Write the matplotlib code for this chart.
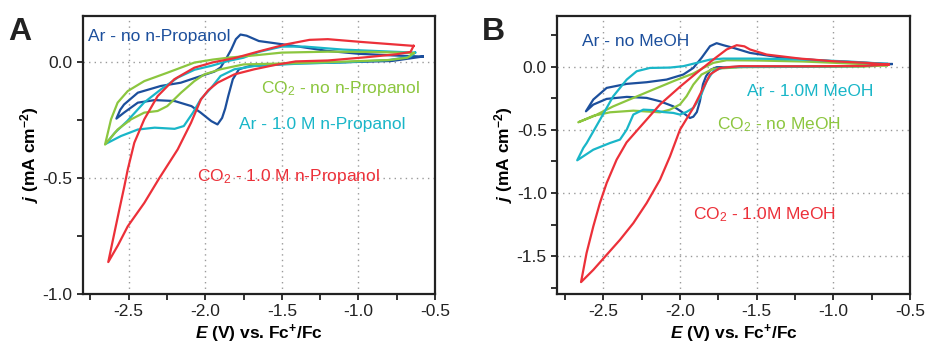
import matplotlib
matplotlib.use('Agg')
import matplotlib.pyplot as plt
from matplotlib.ticker import MultipleLocator, FormatStrFormatter

plt.rcParams['font.family'] = ['Liberation Sans', 'DejaVu Sans']
plt.rcParams['axes.unicode_minus'] = False
plt.rcParams['mathtext.fontset'] = 'custom'
plt.rcParams['mathtext.rm'] = 'Liberation Sans'
plt.rcParams['mathtext.it'] = 'Liberation Sans:italic:bold'
plt.rcParams['mathtext.bf'] = 'Liberation Sans:bold'

c_blue = '#1c4f9c'
c_cyan = '#19b6c8'
c_green = '#8cc63f'
c_red = '#ec3039'

# panel A - n-Propanol (E in V vs Fc+/Fc, j in mA cm-2)
a_ar_E = [-0.58, -0.78, -1.00, -1.21, -1.43, -1.60, -1.71, -1.78, -1.82, -1.85, -1.87, -1.89, -1.92,
          -1.96, -2.03, -2.09, -2.20, -2.33, -2.44, -2.53, -2.58,
          -2.555, -2.53, -2.44, -2.29, -2.16, -2.01, -1.94, -1.90, -1.86, -1.83, -1.80, -1.77, -1.73,
          -1.65, -1.54, -1.39, -1.21, -1.00, -0.78, -0.58]
a_ar_j = [0.025, 0.006, 0.002, -0.002, -0.004, -0.012, -0.016, -0.03, -0.073, -0.146, -0.20, -0.24, -0.268,
          -0.254, -0.217, -0.189, -0.167, -0.163, -0.174, -0.217, -0.243,
          -0.205, -0.182, -0.131, -0.102, -0.088, -0.055, -0.040, -0.022, 0.02, 0.056, 0.10, 0.12, 0.115,
          0.092, 0.082, 0.068, 0.05, 0.037, 0.03, 0.025]

a_ar_pr_E = [-0.63, -0.66, -0.80, -1.10, -1.40, -1.68, -1.81, -1.90, -1.96, -2.03, -2.08, -2.14, -2.20,
             -2.33, -2.44, -2.55, -2.65,
             -2.59, -2.51, -2.40, -2.29, -2.18, -2.07, -1.96, -1.85, -1.75, -1.65, -1.50, -1.35,
             -1.10, -0.85, -0.63]
a_ar_pr_j = [0.042, 0.025, 0.010, 0.0, -0.006, -0.016, -0.030, -0.059, -0.109, -0.16, -0.217, -0.275, -0.287,
             -0.282, -0.29, -0.318, -0.352,
             -0.304, -0.254, -0.174, -0.117, -0.066, -0.032, -0.015, 0.006, 0.020, 0.045, 0.068, 0.068,
             0.055, 0.048, 0.042]

a_co2_E = [-0.64, -0.68, -0.80, -1.10, -1.50, -1.75, -1.90, -2.006, -2.071, -2.158, -2.248, -2.311, -2.398,
           -2.484, -2.572, -2.654,
           -2.615, -2.572, -2.506, -2.398, -2.248, -2.071, -1.95, -1.85, -1.68, -1.50, -1.20, -0.90, -0.64]
a_co2_j = [0.040, 0.020, 0.010, 0.003, -0.005, -0.009, -0.030, -0.052, -0.081, -0.131, -0.189, -0.21, -0.217,
           -0.246, -0.29, -0.355,
           -0.246, -0.174, -0.124, -0.081, -0.045, -0.001, 0.012, 0.020, 0.030, 0.042, 0.046, 0.045, 0.040]

a_co2_pr_E = [-0.64, -0.66, -0.75, -0.95, -1.20, -1.41, -1.55, -1.68, -1.81, -1.92, -1.98, -2.028, -2.093,
              -2.18, -2.30, -2.398, -2.506, -2.57, -2.633,
              -2.593, -2.561, -2.528, -2.506, -2.463, -2.398, -2.311, -2.202, -2.071, -1.95, -1.81,
              -1.64, -1.47, -1.32, -1.20, -0.98, -0.76, -0.64]
a_co2_pr_j = [0.071, 0.045, 0.035, 0.022, 0.008, 0.004, -0.012, -0.030, -0.052, -0.088, -0.12, -0.16, -0.261,
              -0.376, -0.50, -0.607, -0.708, -0.79, -0.862,
              -0.736, -0.636, -0.535, -0.463, -0.347, -0.246, -0.146, -0.073, -0.023, 0.0, 0.018,
              0.049, 0.078, 0.097, 0.10, 0.088, 0.077, 0.071]

# panel B - MeOH
b_ar_E = [-0.62, -0.80, -1.20, -1.60, -1.76, -1.80, -1.83, -1.85, -1.87, -1.89, -1.913, -1.935, -1.978,
          -2.043, -2.13, -2.217, -2.347, -2.478, -2.565, -2.613,
          -2.565, -2.478, -2.347, -2.217, -2.087, -1.978, -1.913, -1.859, -1.804, -1.761, -1.717,
          -1.652, -1.543, -1.326, -1.00, -0.782, -0.62]
b_ar_j = [0.020, 0.005, 0.0, -0.003, -0.005, -0.025, -0.077, -0.14, -0.275, -0.36, -0.397, -0.407, -0.367,
          -0.315, -0.275, -0.248, -0.240, -0.256, -0.301, -0.354,
          -0.261, -0.169, -0.137, -0.124, -0.103, -0.063, -0.011, 0.069, 0.161, 0.185, 0.169,
          0.148, 0.108, 0.069, 0.042, 0.029, 0.020]

b_ar_me_E = [-0.65, -0.80, -1.20, -1.60, -1.717, -1.783, -1.826, -1.87, -1.913, -1.957, -2.00, -2.043, -2.109,
             -2.174, -2.239, -2.304, -2.347, -2.391, -2.456, -2.565, -2.67,
             -2.63, -2.608, -2.521, -2.435, -2.347, -2.282, -2.196, -2.065, -1.978, -1.891, -1.804,
             -1.717, -1.50, -1.20, -0.90, -0.65]
b_ar_me_j = [0.021, 0.004, 0.0, -0.002, -0.006, -0.037, -0.116, -0.248, -0.327, -0.359, -0.38, -0.367, -0.36,
             -0.345, -0.341, -0.38, -0.499, -0.578, -0.605, -0.658, -0.742,
             -0.644, -0.605, -0.42, -0.235, -0.103, -0.037, -0.011, -0.008, 0.003, 0.029, 0.055,
             0.063, 0.063, 0.055, 0.040, 0.021]

b_co2_E = [-0.65, -0.80, -1.20, -1.60, -1.783, -1.859, -1.913, -1.957, -2.00, -2.065, -2.13, -2.304, -2.456,
           -2.565, -2.663,
           -2.565, -2.435, -2.304, -2.174, -2.043, -1.978, -1.913, -1.848, -1.783, -1.696, -1.50,
           -1.20, -0.90, -0.65]
b_co2_j = [0.010, 0.0, -0.002, -0.005, -0.018, -0.063, -0.143, -0.235, -0.30, -0.341, -0.362, -0.349, -0.362,
           -0.39, -0.441,
           -0.394, -0.315, -0.248, -0.182, -0.116, -0.085, -0.055, -0.011, 0.029, 0.050, 0.048,
           0.040, 0.025, 0.010]

b_co2_me_E = [-0.64, -0.80, -1.20, -1.609, -1.739, -1.804, -1.848, -1.913, -2.00, -2.065, -2.13, -2.217,
              -2.304, -2.391, -2.478, -2.565, -2.645,
              -2.609, -2.565, -2.522, -2.478, -2.413, -2.348, -2.261, -2.13, -2.00, -1.891, -1.783,
              -1.696, -1.63, -1.58, -1.543, -1.435, -1.217, -1.00, -0.782, -0.64]
b_co2_me_j = [0.016, 0.005, 0.002, 0.003, -0.011, -0.063, -0.169, -0.327, -0.50, -0.711, -0.895, -1.08,
              -1.239, -1.371, -1.49, -1.609, -1.706,
              -1.476, -1.265, -1.08, -0.922, -0.737, -0.60, -0.48, -0.30, -0.16, -0.05, 0.055,
              0.135, 0.169, 0.16, 0.135, 0.095, 0.063, 0.042, 0.029, 0.016]

fig = plt.figure(figsize=(9.28, 3.45), dpi=100)
axA = fig.add_axes([0.0891, 0.1478, 0.3797, 0.8058])
axB = fig.add_axes([0.6005, 0.1478, 0.3801, 0.8058])

lw = 1.6
axA.plot(a_ar_E, a_ar_j, color=c_blue, lw=lw)
axA.plot(a_ar_pr_E, a_ar_pr_j, color=c_cyan, lw=lw)
axA.plot(a_co2_E, a_co2_j, color=c_green, lw=lw)
axA.plot(a_co2_pr_E, a_co2_pr_j, color=c_red, lw=lw)

axB.plot(b_ar_E, b_ar_j, color=c_blue, lw=lw)
axB.plot(b_co2_E, b_co2_j, color=c_green, lw=lw)
axB.plot(b_ar_me_E, b_ar_me_j, color=c_cyan, lw=lw)
axB.plot(b_co2_me_E, b_co2_me_j, color=c_red, lw=lw)

fs = 12.5
tA = dict(fontsize=fs, ha='left', va='baseline')
axA.text(-2.763, 0.092, 'Ar - no n-Propanol', color=c_blue, **tA)
axA.text(-1.634, -0.131, r'CO$_{\mathrm{2}}$ - no n-Propanol', color=c_green, **tA)
axA.text(-1.778, -0.287, 'Ar - 1.0 M n-Propanol', color=c_cyan, **tA)
axA.text(-2.054, -0.514, r'CO$_{\mathrm{2}}$ - 1.0 M n-Propanol', color=c_red, **tA)

axB.text(-2.641, 0.161, 'Ar - no MeOH', color=c_blue, **tA)
axB.text(-1.565, -0.235, 'Ar - 1.0M MeOH', color=c_cyan, **tA)
axB.text(-1.756, -0.499, r'CO$_{\mathrm{2}}$ - no MeOH', color=c_green, **tA)
axB.text(-1.917, -1.207, r'CO$_{\mathrm{2}}$ - 1.0M MeOH', color=c_red, **tA)

axA.set_ylim(-1.0, 0.2)
axB.set_ylim(-1.8, 0.4)

for ax in (axA, axB):
    ax.set_xlim(-2.8, -0.5)
    ax.xaxis.set_major_locator(MultipleLocator(0.5))
    ax.xaxis.set_minor_locator(MultipleLocator(0.25))
    ax.yaxis.set_major_locator(MultipleLocator(0.5))
    ax.yaxis.set_minor_locator(MultipleLocator(0.25))
    ax.xaxis.set_major_formatter(FormatStrFormatter('%.1f'))
    ax.yaxis.set_major_formatter(FormatStrFormatter('%.1f'))
    ax.grid(True, which='major', color='#9a9a9a', linestyle=(0, (1, 3)), lw=1.0)
    ax.tick_params(which='both', direction='out', length=4, width=1.3, colors='#222222',
                   labelsize=fs, top=False, right=False)
    for s in ax.spines.values():
        s.set_linewidth(1.6)
        s.set_color('#222222')
    ax.set_xlabel(r'$E$ (V) vs. Fc$^{\mathbf{+}}$/Fc', fontsize=fs, fontweight='bold', labelpad=2)
    ax.set_ylabel(r'$j$ (mA cm$^{\mathbf{-2}}$)', fontsize=fs, fontweight='bold', labelpad=1)

fig.text(0.0086, 0.884, 'A', fontsize=23, fontweight='bold', color='#222222')
fig.text(0.519, 0.884, 'B', fontsize=23, fontweight='bold', color='#222222')

fig.savefig('out.png', dpi=100)
